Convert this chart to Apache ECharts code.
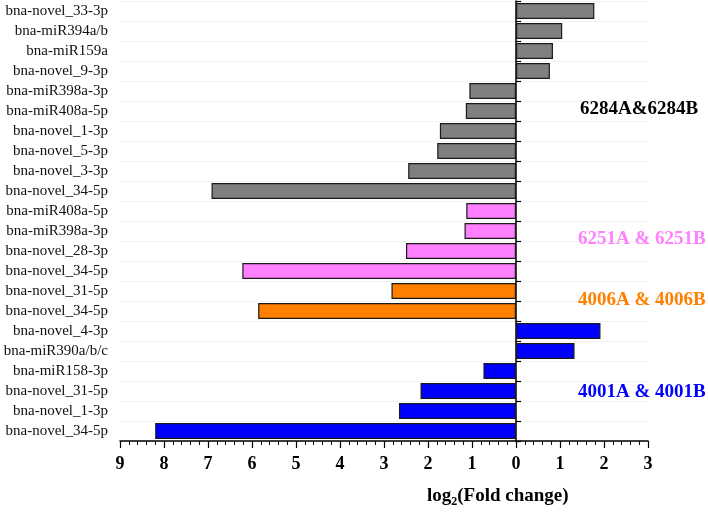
<!DOCTYPE html>
<html>
<head>
<meta charset="utf-8">
<script src="https://cdn.jsdelivr.net/npm/echarts@6/dist/echarts.min.js"></script>
<style>html,body{margin:0;padding:0;background:#fff;}#c{width:708px;height:512px;}</style>
</head>
<body>
<div id="c"></div>
<script>
const categories = [
  'bna-novel_33-3p','bna-miR394a/b','bna-miR159a','bna-novel_9-3p','bna-miR398a-3p',
  'bna-miR408a-5p','bna-novel_1-3p','bna-novel_5-3p','bna-novel_3-3p','bna-novel_34-5p',
  'bna-miR408a-5p','bna-miR398a-3p','bna-novel_28-3p','bna-novel_34-5p',
  'bna-novel_31-5p','bna-novel_34-5p',
  'bna-novel_4-3p','bna-miR390a/b/c','bna-miR158-3p','bna-novel_31-5p','bna-novel_1-3p','bna-novel_34-5p'
];
const values = [
  1.78, 1.05, 0.84, 0.77, -1.06, -1.14, -1.73, -1.79, -2.45, -6.92,
  -1.13, -1.17, -2.50, -6.22,
  -2.83, -5.86,
  1.92, 1.33, -0.74, -2.17, -2.66, -8.20
];
const groupIndex = [0,0,0,0,0,0,0,0,0,0, 1,1,1,1, 2,2, 3,3,3,3,3,3];
const groupNames = ['6284A&6284B', '6251A & 6251B', '4006A & 4006B', '4001A & 4001B'];
const groupColors = ['#808080', '#ff80ff', '#ff8000', '#0000ff'];
const groupTextColors = ['#000000', '#ff80ff', '#ff8000', '#0000ff'];
const xTicks = [-9, 3, 1];

const chart = echarts.init(document.getElementById('c'));
const serif = '"Liberation Serif", "Times New Roman", serif';
const labelPos = [
  {x: 580, y: 111}, {x: 578, y: 241}, {x: 578, y: 302}, {x: 578, y: 394}
];
chart.setOption({
  animation: false,
  grid: {left: 120, right: 60, top: 1, bottom: 71},
  xAxis: {
    type: 'value', min: xTicks[0], max: xTicks[1], interval: xTicks[2],
    axisLine: {show: true, onZero: false, lineStyle: {color: '#000', width: 1.5}},
    axisTick: {show: true, length: 7, lineStyle: {color: '#000', width: 1.2}},
    minorTick: {show: true, splitNumber: 5, length: 4, lineStyle: {color: '#000', width: 1}},
    splitLine: {show: false},
    axisLabel: {
      formatter: v => String(Math.abs(v)), margin: 14,
      fontFamily: serif, fontWeight: 'bold', fontSize: 18, color: '#000'
    }
  },
  yAxis: [
    {
      type: 'category', inverse: true, data: categories, position: 'left',
      axisLine: {show: false, onZero: false}, axisTick: {show: false},
      splitLine: {show: true, lineStyle: {color: '#f2f2f2', width: 1}},
      axisLabel: {fontFamily: serif, fontSize: 15, color: '#111', margin: 12}
    },
    {
      type: 'category', inverse: true, data: categories, position: 'left',
      axisLine: {show: true, onZero: true, lineStyle: {color: '#000', width: 1.5}},
      axisTick: {show: true, inside: true, length: 5, lineStyle: {color: '#000', width: 1.2}},
      axisLabel: {show: false}, splitLine: {show: false}
    }
  ],
  series: [{
    type: 'bar', yAxisIndex: 0, barWidth: '80%',
    data: values.map((v, i) => ({
      value: v,
      itemStyle: {color: groupColors[groupIndex[i]], borderColor: '#1a1a1a', borderWidth: 1.2}
    }))
  }],
  graphic: [
    ...groupNames.map((t, i) => ({
      type: 'text', left: labelPos[i].x, top: labelPos[i].y - 11, z: 100,
      style: {text: t, fill: groupTextColors[i], font: 'bold 19px ' + serif}
    })),
    {
      type: 'text', left: 427, top: 487, z: 100,
      style: {
        text: '{a|log}{s|2}{a|(Fold change)}',
        rich: {
          a: {fontFamily: serif, fontWeight: 'bold', fontSize: 19, fill: '#000'},
          s: {fontFamily: serif, fontWeight: 'bold', fontSize: 12, fill: '#000', padding: [11, 0, 0, 0]}
        }
      }
    }
  ]
});
</script>
</body>
</html>
